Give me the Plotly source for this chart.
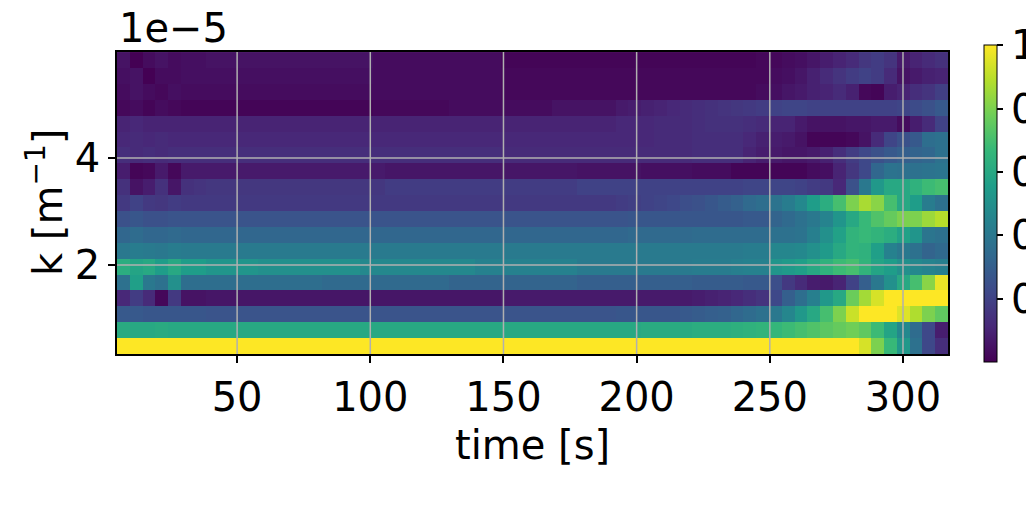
import plotly.graph_objects as go

# time bin centres [s]
time_s = [7.3, 12.1, 16.9, 21.7, 26.5, 31.3, 36.1, 40.9, 45.7, 50.5,
          55.3, 60.1, 64.9, 69.7, 74.5, 79.3, 84.1, 88.9, 93.7, 98.5,
          103.3, 108.1, 112.9, 117.7, 122.5, 127.3, 132.1, 136.9, 141.7, 146.5,
          151.3, 156.1, 160.9, 165.7, 170.5, 175.3, 180.1, 184.9, 189.7, 194.5,
          199.3, 204.1, 208.9, 213.7, 218.5, 223.3, 228.1, 232.9, 237.7, 242.5,
          247.3, 252.1, 256.9, 261.7, 266.5, 271.3, 276.1, 280.9, 285.7, 290.5,
          295.3, 300.1, 304.9, 309.7, 314.5]

# wavenumber bin centres [1e-5 m^-1]
k_1e5 = [0.485, 0.782, 1.079, 1.376, 1.673, 1.970, 2.267, 2.564, 2.861, 3.158,
         3.455, 3.752, 4.049, 4.346, 4.643, 4.940, 5.237, 5.534, 5.831]

# normalised spectral amplitude, one list per k row (low k first)
row00 = [1.0, 1.0, 1.0, 1.0, 1.0, 1.0, 1.0, 1.0, 1.0, 1.0,
         1.0, 1.0, 1.0, 1.0, 1.0, 1.0, 1.0, 1.0, 1.0, 1.0,
         1.0, 1.0, 1.0, 1.0, 1.0, 1.0, 1.0, 1.0, 1.0, 1.0,
         1.0, 1.0, 1.0, 1.0, 1.0, 1.0, 1.0, 1.0, 1.0, 1.0,
         1.0, 1.0, 1.0, 1.0, 1.0, 1.0, 1.0, 1.0, 1.0, 1.0,
         1.0, 1.0, 1.0, 1.0, 1.0, 1.0, 1.0, 1.0,
         0.94, 0.80, 0.67, 0.53, 0.37, 0.22, 0.13]
row01 = [0.61, 0.60, 0.60, 0.61, 0.60, 0.60, 0.60, 0.60, 0.60, 0.60,
         0.60, 0.60, 0.60, 0.60, 0.60, 0.60, 0.60, 0.60, 0.60, 0.60,
         0.60, 0.60, 0.60, 0.60, 0.60, 0.60, 0.60, 0.60, 0.60, 0.60,
         0.60, 0.60, 0.60, 0.60, 0.60, 0.60, 0.60, 0.60, 0.60, 0.60,
         0.60, 0.61, 0.61, 0.61, 0.61, 0.62, 0.62, 0.62, 0.63, 0.64,
         0.65, 0.66, 0.68, 0.70, 0.72, 0.74, 0.76, 0.78,
         0.75, 0.68, 0.58, 0.47, 0.35, 0.22, 0.08]
row02 = [0.28, 0.28, 0.27, 0.27, 0.27, 0.27, 0.27, 0.26, 0.26, 0.26,
         0.26, 0.26, 0.26, 0.26, 0.26, 0.26, 0.26, 0.26, 0.26, 0.26,
         0.26, 0.26, 0.26, 0.26, 0.26, 0.26, 0.26, 0.26, 0.26, 0.26,
         0.26, 0.26, 0.26, 0.26, 0.26, 0.26, 0.26, 0.26, 0.26, 0.27,
         0.27, 0.27, 0.27, 0.27, 0.28, 0.29, 0.30, 0.31, 0.33, 0.35,
         0.37, 0.40, 0.46, 0.53, 0.60, 0.70, 0.80, 0.92,
         1.0, 1.0, 1.0, 0.95, 0.88, 0.80, 0.75]
row03 = [0.11, 0.18, 0.12, 0.02, 0.17, 0.05, 0.05, 0.06, 0.06, 0.06,
         0.06, 0.06, 0.06, 0.06, 0.06, 0.06, 0.06, 0.06, 0.06, 0.06,
         0.06, 0.06, 0.06, 0.06, 0.06, 0.06, 0.06, 0.06, 0.06, 0.06,
         0.07, 0.07, 0.07, 0.07, 0.07, 0.07, 0.07, 0.07, 0.07, 0.07,
         0.07, 0.07, 0.07, 0.07, 0.07, 0.08, 0.09, 0.10, 0.11, 0.13,
         0.15, 0.22, 0.30, 0.36, 0.43, 0.53, 0.60, 0.77,
         0.86, 0.94, 1.0, 1.0, 1.0, 1.0, 1.0]
row04 = [0.37, 0.56, 0.40, 0.37, 0.50, 0.36, 0.36, 0.36, 0.36, 0.36,
         0.36, 0.36, 0.36, 0.36, 0.36, 0.36, 0.34, 0.34, 0.34, 0.34,
         0.34, 0.34, 0.34, 0.34, 0.34, 0.34, 0.32, 0.32, 0.32, 0.32,
         0.32, 0.32, 0.32, 0.32, 0.32, 0.32, 0.30, 0.30, 0.30, 0.30,
         0.30, 0.30, 0.30, 0.30, 0.30, 0.29, 0.29, 0.29, 0.29, 0.28,
         0.28, 0.24, 0.17, 0.12, 0.08, 0.07, 0.10, 0.20,
         0.30, 0.40, 0.50, 0.60, 0.70, 0.82, 0.97]
row05 = [0.62, 0.58, 0.60, 0.55, 0.60, 0.55, 0.55, 0.52, 0.52, 0.52,
         0.52, 0.50, 0.50, 0.50, 0.50, 0.50, 0.50, 0.50, 0.50, 0.47,
         0.47, 0.47, 0.47, 0.47, 0.47, 0.47, 0.47, 0.47, 0.44, 0.44,
         0.44, 0.44, 0.44, 0.44, 0.44, 0.44, 0.41, 0.41, 0.41, 0.41,
         0.41, 0.41, 0.41, 0.41, 0.41, 0.42, 0.42, 0.42, 0.43, 0.44,
         0.44, 0.52, 0.54, 0.56, 0.60, 0.64, 0.68, 0.70,
         0.65, 0.58, 0.55, 0.50, 0.47, 0.45, 0.43]
row06 = [0.40, 0.42, 0.41, 0.40, 0.42, 0.41, 0.41, 0.41, 0.41, 0.41,
         0.41, 0.41, 0.41, 0.41, 0.41, 0.41, 0.41, 0.41, 0.41, 0.41,
         0.41, 0.41, 0.41, 0.41, 0.41, 0.41, 0.41, 0.41, 0.41, 0.41,
         0.41, 0.41, 0.41, 0.41, 0.41, 0.41, 0.41, 0.41, 0.41, 0.41,
         0.41, 0.41, 0.41, 0.41, 0.41, 0.41, 0.41, 0.41, 0.41, 0.42,
         0.42, 0.46, 0.46, 0.47, 0.50, 0.54, 0.60, 0.65,
         0.64, 0.56, 0.44, 0.40, 0.37, 0.32, 0.34]
row07 = [0.33, 0.35, 0.33, 0.33, 0.34, 0.33, 0.33, 0.33, 0.33, 0.33,
         0.33, 0.33, 0.33, 0.33, 0.33, 0.33, 0.33, 0.33, 0.33, 0.33,
         0.33, 0.33, 0.33, 0.33, 0.33, 0.33, 0.33, 0.33, 0.33, 0.33,
         0.33, 0.33, 0.33, 0.33, 0.33, 0.33, 0.33, 0.33, 0.33, 0.33,
         0.34, 0.34, 0.34, 0.34, 0.34, 0.35, 0.35, 0.35, 0.35, 0.35,
         0.35, 0.37, 0.37, 0.38, 0.43, 0.50, 0.57, 0.65,
         0.67, 0.65, 0.62, 0.57, 0.52, 0.39, 0.37]
row08 = [0.25, 0.27, 0.25, 0.25, 0.26, 0.26, 0.26, 0.26, 0.26, 0.26,
         0.26, 0.26, 0.26, 0.26, 0.26, 0.26, 0.26, 0.26, 0.26, 0.26,
         0.26, 0.26, 0.26, 0.26, 0.26, 0.26, 0.26, 0.26, 0.26, 0.26,
         0.26, 0.26, 0.26, 0.26, 0.26, 0.26, 0.26, 0.26, 0.26, 0.26,
         0.27, 0.27, 0.27, 0.27, 0.27, 0.27, 0.27, 0.27, 0.27, 0.28,
         0.28, 0.32, 0.34, 0.37, 0.40, 0.45, 0.52, 0.60,
         0.67, 0.72, 0.76, 0.80, 0.80, 0.85, 0.89]
row09 = [0.17, 0.20, 0.17, 0.16, 0.18, 0.17, 0.17, 0.17, 0.17, 0.17,
         0.17, 0.17, 0.17, 0.17, 0.17, 0.17, 0.17, 0.17, 0.17, 0.17,
         0.17, 0.17, 0.17, 0.17, 0.17, 0.17, 0.17, 0.17, 0.17, 0.17,
         0.17, 0.17, 0.17, 0.17, 0.17, 0.17, 0.17, 0.17, 0.17, 0.18,
         0.19, 0.20, 0.21, 0.22, 0.24, 0.25, 0.27, 0.29, 0.31, 0.34,
         0.36, 0.38, 0.42, 0.47, 0.55, 0.62, 0.70, 0.80,
         0.87, 0.82, 0.70, 0.60, 0.55, 0.42, 0.37]
row10 = [0.14, 0.05, 0.08, 0.14, 0.06, 0.14, 0.15, 0.16, 0.16, 0.16,
         0.16, 0.16, 0.16, 0.16, 0.16, 0.16, 0.16, 0.16, 0.16, 0.16,
         0.16, 0.18, 0.18, 0.18, 0.18, 0.18, 0.18, 0.18, 0.18, 0.18,
         0.18, 0.18, 0.18, 0.18, 0.18, 0.18, 0.20, 0.20, 0.20, 0.20,
         0.20, 0.20, 0.20, 0.20, 0.20, 0.20, 0.20, 0.20, 0.20, 0.21,
         0.21, 0.21, 0.21, 0.20, 0.18, 0.17, 0.11, 0.25,
         0.40, 0.53, 0.60, 0.60, 0.64, 0.68, 0.70]
row11 = [0.08, 0.01, 0.02, 0.07, 0.02, 0.07, 0.07, 0.07, 0.07, 0.07,
         0.07, 0.07, 0.07, 0.07, 0.07, 0.07, 0.07, 0.07, 0.07, 0.07,
         0.07, 0.06, 0.06, 0.06, 0.06, 0.06, 0.06, 0.06, 0.06, 0.06,
         0.06, 0.06, 0.06, 0.06, 0.06, 0.06, 0.05, 0.05, 0.05, 0.05,
         0.05, 0.04, 0.04, 0.04, 0.04, 0.03, 0.03, 0.03, 0.01, 0.01,
         0.01, 0.01, 0.01, 0.01, 0.03, 0.04, 0.10, 0.16,
         0.22, 0.33, 0.38, 0.37, 0.37, 0.38, 0.39]
row12 = [0.13, 0.12, 0.13, 0.12, 0.13, 0.13, 0.13, 0.13, 0.13, 0.13,
         0.13, 0.13, 0.13, 0.13, 0.13, 0.13, 0.13, 0.13, 0.13, 0.13,
         0.13, 0.13, 0.13, 0.13, 0.13, 0.13, 0.13, 0.13, 0.13, 0.13,
         0.12, 0.12, 0.12, 0.12, 0.12, 0.12, 0.12, 0.12, 0.12, 0.12,
         0.12, 0.12, 0.12, 0.12, 0.12, 0.13, 0.13, 0.13, 0.13, 0.10,
         0.08, 0.07, 0.06, 0.06, 0.07, 0.09, 0.13, 0.18,
         0.22, 0.25, 0.28, 0.30, 0.32, 0.33, 0.37]
row13 = [0.11, 0.12, 0.11, 0.12, 0.11, 0.11, 0.11, 0.11, 0.11, 0.11,
         0.11, 0.11, 0.11, 0.11, 0.11, 0.11, 0.11, 0.11, 0.11, 0.11,
         0.11, 0.11, 0.11, 0.11, 0.11, 0.11, 0.11, 0.11, 0.11, 0.11,
         0.11, 0.11, 0.11, 0.11, 0.11, 0.11, 0.11, 0.11, 0.11, 0.11,
         0.11, 0.11, 0.12, 0.12, 0.12, 0.13, 0.13, 0.13, 0.13, 0.11,
         0.09, 0.08, 0.07, 0.05, 0.01, 0.01, 0.01, 0.02,
         0.05, 0.12, 0.21, 0.25, 0.28, 0.36, 0.37]
row14 = [0.10, 0.11, 0.10, 0.10, 0.10, 0.10, 0.10, 0.10, 0.10, 0.10,
         0.10, 0.10, 0.10, 0.10, 0.10, 0.10, 0.10, 0.10, 0.10, 0.10,
         0.10, 0.10, 0.10, 0.10, 0.10, 0.10, 0.10, 0.10, 0.10, 0.10,
         0.10, 0.10, 0.10, 0.10, 0.10, 0.10, 0.10, 0.10, 0.10, 0.11,
         0.11, 0.11, 0.12, 0.12, 0.12, 0.13, 0.14, 0.14, 0.14, 0.13,
         0.12, 0.10, 0.10, 0.07, 0.05, 0.05, 0.05, 0.06,
         0.06, 0.07, 0.07, 0.03, 0.08, 0.12, 0.20]
row15 = [0.02, 0.03, 0.01, 0.03, 0.02, 0.01, 0.01, 0.01, 0.01, 0.01,
         0.01, 0.01, 0.01, 0.01, 0.01, 0.01, 0.01, 0.01, 0.01, 0.01,
         0.02, 0.02, 0.02, 0.02, 0.02, 0.02, 0.03, 0.03, 0.03, 0.03,
         0.03, 0.03, 0.03, 0.03, 0.05, 0.05, 0.05, 0.05, 0.05, 0.07,
         0.08, 0.09, 0.10, 0.11, 0.12, 0.13, 0.14, 0.15, 0.16, 0.17,
         0.18, 0.20, 0.21, 0.21, 0.20, 0.20, 0.20, 0.20,
         0.20, 0.20, 0.20, 0.21, 0.23, 0.25, 0.28]
row16 = [0.03, 0.05, 0.03, 0.02, 0.04, 0.03, 0.03, 0.03, 0.03, 0.03,
         0.03, 0.03, 0.03, 0.03, 0.03, 0.03, 0.03, 0.03, 0.03, 0.03,
         0.03, 0.03, 0.03, 0.03, 0.03, 0.03, 0.03, 0.03, 0.03, 0.03,
         0.02, 0.02, 0.02, 0.02, 0.02, 0.02, 0.02, 0.02, 0.02, 0.02,
         0.02, 0.02, 0.02, 0.02, 0.02, 0.02, 0.02, 0.02, 0.02, 0.02,
         0.03, 0.04, 0.06, 0.07, 0.09, 0.10, 0.12, 0.09,
         0.02, 0.01, 0.08, 0.10, 0.13, 0.15, 0.19]
row17 = [0.04, 0.05, 0.00, 0.03, 0.03, 0.04, 0.04, 0.04, 0.04, 0.04,
         0.04, 0.04, 0.04, 0.04, 0.04, 0.04, 0.04, 0.04, 0.04, 0.04,
         0.03, 0.03, 0.03, 0.03, 0.03, 0.03, 0.03, 0.03, 0.03, 0.03,
         0.02, 0.02, 0.02, 0.02, 0.02, 0.02, 0.02, 0.02, 0.02, 0.02,
         0.02, 0.02, 0.02, 0.02, 0.02, 0.02, 0.02, 0.02, 0.02, 0.02,
         0.02, 0.03, 0.04, 0.06, 0.09, 0.12, 0.15, 0.18,
         0.20, 0.18, 0.12, 0.05, 0.07, 0.09, 0.10]
row18 = [0.05, 0.00, 0.03, 0.05, 0.03, 0.04, 0.04, 0.05, 0.05, 0.05,
         0.05, 0.05, 0.05, 0.05, 0.05, 0.05, 0.05, 0.05, 0.05, 0.05,
         0.03, 0.03, 0.03, 0.03, 0.03, 0.03, 0.03, 0.03, 0.03, 0.03,
         0.01, 0.01, 0.01, 0.01, 0.01, 0.01, 0.01, 0.01, 0.01, 0.01,
         0.01, 0.01, 0.01, 0.01, 0.01, 0.01, 0.01, 0.01, 0.01, 0.01,
         0.02, 0.02, 0.03, 0.04, 0.06, 0.08, 0.10, 0.12,
         0.16, 0.18, 0.15, 0.07, 0.10, 0.12, 0.14]

amplitude = [row00, row01, row02, row03, row04, row05, row06, row07, row08, row09,
             row10, row11, row12, row13, row14, row15, row16, row17, row18]

x_ticks = [50, 100, 150, 200, 250, 300]
y_ticks = [2, 4]
cbar_ticks = [0.2, 0.4, 0.6, 0.8, 1.0]
cbar_text = ["0.2", "0.4", "0.6", "0.8", "1.0"]

FONT = "DejaVu Sans"
FS = 40
GRID = "#b0b0b0"

fig = go.Figure(go.Heatmap(
    x=time_s, y=k_1e5, z=amplitude,
    colorscale="Viridis", zmin=0.0, zmax=1.0, zsmooth=False,
    colorbar=dict(
        x=1.0433, xanchor="left", xpad=0, thickness=13,
        len=317, lenmode="pixels", y=0.498, yanchor="middle", ypad=0,
        outlinewidth=1, outlinecolor="black",
        ticks="outside", ticklen=6, tickwidth=1.5, tickcolor="black",
        tickvals=cbar_ticks, ticktext=cbar_text,
        tickfont=dict(family=FONT, size=FS, color="black"),
    ),
))

shapes = []
for t in x_ticks:
    shapes.append(dict(type="line", xref="x", yref="paper", x0=t, x1=t, y0=0, y1=1,
                       line=dict(color=GRID, width=1.5), layer="above"))
for k in y_ticks:
    shapes.append(dict(type="line", xref="paper", yref="y", x0=0, x1=1, y0=k, y1=k,
                       line=dict(color=GRID, width=1.5), layer="above"))

# the page body adds an 8 px offset, so margins are set 8 px smaller on left/top
fig.update_layout(
    width=1034, height=510,
    margin=dict(l=109, r=94, t=44, b=164, autoexpand=False),
    paper_bgcolor="white", plot_bgcolor="white",
    font=dict(family=FONT, size=FS, color="black"),
    shapes=shapes,
    xaxis=dict(range=[4.9, 316.9], tickvals=x_ticks, ticks="outside", ticklen=7,
               tickwidth=1.5, tickcolor="black", showline=True, linecolor="black",
               linewidth=1.5, mirror=True, showgrid=False, zeroline=False,
               tickfont=dict(family=FONT, size=FS, color="black")),
    yaxis=dict(range=[0.336, 5.98], tickvals=y_ticks, ticktext=["2", "4"],
               ticks="outside", ticklen=7, tickwidth=1.5, tickcolor="black",
               showline=True, linecolor="black", linewidth=1.5, mirror=True,
               showgrid=False, zeroline=False,
               tickfont=dict(family=FONT, size=FS, color="black")),
    annotations=[
        dict(text="time [s]", xref="paper", yref="paper", x=0.5, y=-0.301,
             xanchor="center", yanchor="middle", showarrow=False,
             font=dict(family=FONT, size=FS, color="black")),
        dict(text="k [m<sup>−1</sup>]", xref="paper", yref="paper", x=-0.0866, y=0.5,
             xanchor="center", yanchor="middle", textangle=-90, showarrow=False,
             font=dict(family=FONT, size=FS, color="black")),
        dict(text="1e−5", xref="paper", yref="paper", x=0.0, y=1.079,
             xanchor="left", yanchor="middle", showarrow=False,
             font=dict(family=FONT, size=FS, color="black")),
    ],
)

fig.write_html("out.html")
